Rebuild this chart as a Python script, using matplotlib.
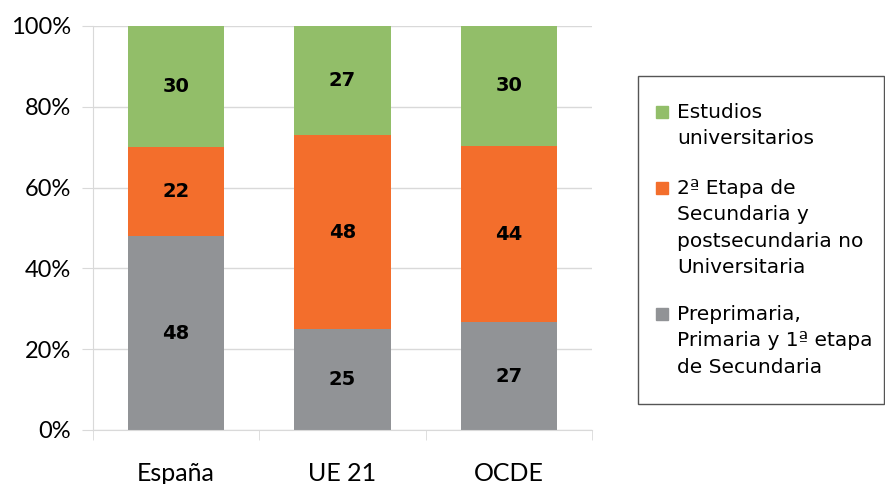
import matplotlib.pyplot as plt
from matplotlib.patches import Rectangle
import numpy as np

countries = ["España", "UE 21", "OCDE"]
preprimaria = [48, 25, 27]
secundaria2 = [22, 48, 44]
universitarios = [30, 27, 30]

labels = ["Preprimaria,\nPrimaria y 1ª etapa\nde Secundaria",
          "2ª Etapa de\nSecundaria y\npostsecundaria no\nUniversitaria",
          "Estudios\nuniversitarios"]
colors = ["#919396", "#F36E2C", "#92BE69"]

W, H = 885, 484
series = np.array([preprimaria, secundaria2, universitarios], dtype=float)
shares = series / series.sum(axis=0) * 100  # 100% stacked

fig = plt.figure(figsize=(W / 100, H / 100), dpi=100)
ax = fig.add_axes([93 / W, 1 - 430 / H, 499 / W, 404 / H])

x = np.arange(len(countries))
bottom = np.zeros(len(countries))
for vals, raw, c in zip(shares, series, colors):
    ax.bar(x, vals, bottom=bottom, width=0.58, color=c, zorder=2)
    for xi, b, v, r in zip(x, bottom, vals, raw):
        ax.text(xi, b + v / 2, f"{r:.0f}", ha="center", va="center",
                fontsize=14, fontweight="bold", color="black", zorder=3)
    bottom += vals

ax.set_xlim(-0.5, 2.5)
ax.set_ylim(0, 100)
ax.set_yticks(range(0, 101, 20))
ax.set_yticklabels([f"{v}%" for v in range(0, 101, 20)], fontsize=17,
                   family="Lato")
ax.yaxis.grid(True, color="#d9d9d9", lw=1, zorder=0)
ax.tick_params(axis="y", length=8, color="#d9d9d9", pad=8)

ax.set_xticks(x)
ax.set_xticklabels(countries, fontsize=18, family="Lato")
ax.set_xticks([-0.5, 0.5, 1.5, 2.5], minor=True)
ax.tick_params(axis="x", which="major", length=0, pad=23)
ax.tick_params(axis="x", which="minor", length=7, color="#d9d9d9")

for s in ["top", "right"]:
    ax.spines[s].set_visible(False)
ax.spines["left"].set_color("#d9d9d9")
ax.spines["bottom"].set_color("#d9d9d9")

# legend drawn by hand: boxed, square marker next to first line of each label
fig.patches.append(Rectangle((638 / W, 1 - 404 / H), 246 / W, 328 / H,
                             transform=fig.transFigure, facecolor="white",
                             edgecolor="#555555", lw=1))
first_line_y = [314, 188, 112]  # pixel rows of first text line per entry
for lab, c, y0 in zip(labels, colors, first_line_y):
    fig.patches.append(Rectangle((656 / W, 1 - (y0 + 6) / H), 12 / W, 12 / H,
                                 transform=fig.transFigure, color=c))
    fig.text(677 / W, 1 - (y0 - 9) / H, lab, ha="left", va="top",
             fontsize=14.5, family="DejaVu Sans", linespacing=1.5)

fig.savefig("out.png", dpi=100)
